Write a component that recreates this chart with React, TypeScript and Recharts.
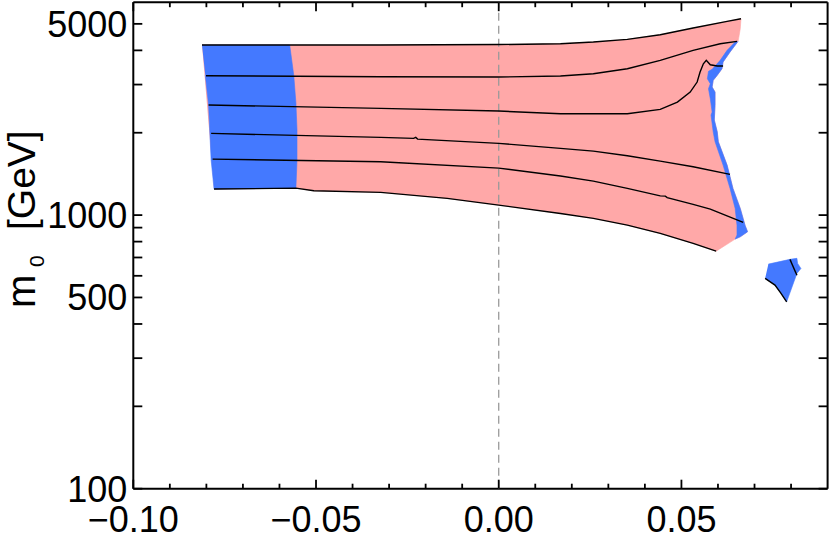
import React from 'react';
import { ScatterChart, Scatter, XAxis, YAxis } from 'recharts';

const FONT = '"Liberation Sans", Arial, Helvetica, sans-serif';
const PINK = '#FFA8A8';
const BLUE = '#4479FF';

// axis ticks
const xAllTicks = [-0.1, -0.09, -0.08, -0.07, -0.06, -0.05, -0.04, -0.03, -0.02, -0.01, 0, 0.01, 0.02, 0.03, 0.04, 0.05, 0.06, 0.07, 0.08];
const xMajorTicks = [-0.1, -0.05, 0, 0.05];
const xMajorLabels = ['\u22120.10', '\u22120.05', '0.00', '0.05'];
const yAllTicks = [100, 200, 300, 400, 500, 600, 700, 800, 900, 1000, 2000, 3000, 4000, 5000];
const yMajorTicks = [100, 500, 1000, 5000];
const yMajorLabels = ['100', '500', '1000', '5000'];

// filled regions
const pinkRegion = [
  { x: -0.0812, y: 4183 }, { x: -0.0569, y: 4183 }, { x: -0.0323, y: 4183 }, { x: 0.0, y: 4201 },
  { x: 0.0169, y: 4229 }, { x: 0.0259, y: 4290 }, { x: 0.0352, y: 4389 }, { x: 0.0442, y: 4563 },
  { x: 0.0532, y: 4828 }, { x: 0.0625, y: 5108 }, { x: 0.0663, y: 5222 },
  { x: 0.0661, y: 4799 }, { x: 0.0658, y: 4540 }, { x: 0.0655, y: 4316 },
  { x: 0.0633, y: 3945 }, { x: 0.0614, y: 3626 }, { x: 0.0611, y: 3427 }, { x: 0.0598, y: 3242 },
  { x: 0.0587, y: 3108 }, { x: 0.0584, y: 2938 }, { x: 0.0592, y: 2816 }, { x: 0.0592, y: 2518 },
  { x: 0.059, y: 2226 }, { x: 0.0598, y: 2016 }, { x: 0.0601, y: 1854 }, { x: 0.0625, y: 1523 },
  { x: 0.0641, y: 1252 }, { x: 0.0661, y: 1058 }, { x: 0.0674, y: 919 }, { x: 0.0681, y: 869 },
  { x: 0.0661, y: 833 }, { x: 0.0647, y: 817 },
  { x: 0.0595, y: 738 }, { x: 0.0532, y: 788 }, { x: 0.0442, y: 857 }, { x: 0.0352, y: 919 },
  { x: 0.0259, y: 973 }, { x: 0.0169, y: 1014 }, { x: 0.0, y: 1088 }, { x: -0.0141, y: 1151 },
  { x: -0.0323, y: 1211 }, { x: -0.0506, y: 1227 }, { x: -0.0555, y: 1255 }, { x: -0.0779, y: 1245 },
];

const blueLeft = [
  { x: -0.0812, y: 4183 }, { x: -0.0572, y: 4183 }, { x: -0.0561, y: 3250 }, { x: -0.0555, y: 2568 },
  { x: -0.0552, y: 2046 }, { x: -0.0552, y: 1589 }, { x: -0.0555, y: 1255 }, { x: -0.0779, y: 1245 },
  { x: -0.0787, y: 1589 }, { x: -0.0794, y: 2525 }, { x: -0.0803, y: 3250 },
];

const blueSliver = [
  { x: 0.0655, y: 4316 }, { x: 0.0633, y: 3945 }, { x: 0.0614, y: 3626 }, { x: 0.0611, y: 3427 },
  { x: 0.0598, y: 3242 }, { x: 0.0587, y: 3108 }, { x: 0.0584, y: 2938 }, { x: 0.0592, y: 2816 },
  { x: 0.0592, y: 2518 }, { x: 0.059, y: 2226 }, { x: 0.0598, y: 2016 }, { x: 0.0601, y: 1854 },
  { x: 0.0625, y: 1523 }, { x: 0.0641, y: 1252 }, { x: 0.0661, y: 1058 }, { x: 0.0674, y: 919 },
  { x: 0.0681, y: 869 }, { x: 0.0661, y: 833 }, { x: 0.0647, y: 817 },
  { x: 0.0652, y: 845 }, { x: 0.0652, y: 919 }, { x: 0.0647, y: 1058 }, { x: 0.0633, y: 1252 },
  { x: 0.0614, y: 1523 }, { x: 0.0592, y: 1854 }, { x: 0.0587, y: 2011 }, { x: 0.0581, y: 2321 },
  { x: 0.0584, y: 2380 }, { x: 0.0579, y: 2662 }, { x: 0.0574, y: 2896 }, { x: 0.0579, y: 3020 },
  { x: 0.0571, y: 3150 }, { x: 0.0574, y: 3353 }, { x: 0.0584, y: 3410 }, { x: 0.0606, y: 3678 },
  { x: 0.0625, y: 4002 }, { x: 0.0647, y: 4290 },
];

const blueIsland = [
  { x: 0.0738, y: 662 }, { x: 0.0797, y: 689 }, { x: 0.0816, y: 695 }, { x: 0.0818, y: 666 },
  { x: 0.0827, y: 638 }, { x: 0.0816, y: 612 }, { x: 0.0788, y: 482 }, { x: 0.0772, y: 519 },
  { x: 0.0756, y: 555 }, { x: 0.0729, y: 587 },
];

// contour lines
const line1 = [
  { x: -0.0812, y: 4183 }, { x: -0.0569, y: 4183 }, { x: -0.0323, y: 4183 }, { x: 0.0, y: 4201 },
  { x: 0.0169, y: 4229 }, { x: 0.0259, y: 4290 }, { x: 0.0352, y: 4389 }, { x: 0.0442, y: 4563 },
  { x: 0.0532, y: 4828 }, { x: 0.0625, y: 5108 }, { x: 0.0663, y: 5222 },
];
const line2 = [
  { x: -0.0801, y: 3231 }, { x: -0.0323, y: 3204 }, { x: 0.0, y: 3196 }, { x: 0.0169, y: 3223 },
  { x: 0.0259, y: 3286 }, { x: 0.0352, y: 3427 }, { x: 0.0442, y: 3678 }, { x: 0.0532, y: 4002 },
  { x: 0.0606, y: 4229 }, { x: 0.0652, y: 4316 },
];
const line3 = [
  { x: -0.0794, y: 2525 }, { x: -0.0323, y: 2455 }, { x: 0.0, y: 2401 }, { x: 0.0169, y: 2346 },
  { x: 0.0352, y: 2346 }, { x: 0.0442, y: 2435 }, { x: 0.0489, y: 2589 }, { x: 0.0524, y: 2816 },
  { x: 0.0543, y: 3064 }, { x: 0.0551, y: 3333 }, { x: 0.056, y: 3574 }, { x: 0.0568, y: 3678 },
  { x: 0.0579, y: 3544 }, { x: 0.0598, y: 3506 }, { x: 0.0614, y: 3506 },
];
const line4 = [
  { x: -0.0787, y: 1989 }, { x: -0.0323, y: 1923 }, { x: -0.0233, y: 1907 }, { x: -0.0227, y: 1923 },
  { x: -0.0222, y: 1896 }, { x: 0.0, y: 1829 }, { x: 0.0169, y: 1753 }, { x: 0.0259, y: 1714 },
  { x: 0.0352, y: 1647 }, { x: 0.0442, y: 1575 }, { x: 0.0532, y: 1502 }, { x: 0.0633, y: 1409 },
];
const line5 = [
  { x: -0.0783, y: 1602 }, { x: -0.0323, y: 1566 }, { x: 0.0, y: 1485 }, { x: 0.0169, y: 1389 },
  { x: 0.0259, y: 1331 }, { x: 0.0352, y: 1252 }, { x: 0.0442, y: 1176 }, { x: 0.0456, y: 1173 },
  { x: 0.0461, y: 1159 }, { x: 0.0532, y: 1094 }, { x: 0.0579, y: 1052 }, { x: 0.0669, y: 940 },
];
const line6 = [
  { x: -0.0779, y: 1245 }, { x: -0.0555, y: 1255 }, { x: -0.0506, y: 1227 }, { x: -0.0323, y: 1211 },
  { x: -0.0141, y: 1151 }, { x: 0.0, y: 1088 }, { x: 0.0169, y: 1014 }, { x: 0.0259, y: 973 },
  { x: 0.0352, y: 919 }, { x: 0.0442, y: 857 }, { x: 0.0532, y: 788 }, { x: 0.0595, y: 738 },
];
const islandCurve = [
  { x: 0.0729, y: 587 }, { x: 0.0756, y: 555 }, { x: 0.0772, y: 519 }, { x: 0.0788, y: 482 },
];
const islandTick = [
  { x: 0.0797, y: 689 }, { x: 0.0816, y: 603 },
];
const zeroLine = [
  { x: 0, y: 100 }, { x: 0, y: 6000 },
];

const NoDot = () => <g />;

const BottomTick = (props: any) => {
  const { x, y, payload } = props;
  const i = xMajorTicks.indexOf(payload.value);
  const major = i >= 0;
  return (
    <g>
      <line x1={x} x2={x} y1={y} y2={y - (major ? 9 : 5)} stroke="#000" strokeWidth={1.8} />
      {major && (
        <text x={x} y={y + 43} textAnchor="middle" fontSize={36} fontFamily={FONT} fill="#000">
          {xMajorLabels[i]}
        </text>
      )}
    </g>
  );
};

const TopTick = (props: any) => {
  const { x, y, payload } = props;
  const major = xMajorTicks.indexOf(payload.value) >= 0;
  return <line x1={x} x2={x} y1={y} y2={y + (major ? 9 : 5)} stroke="#000" strokeWidth={1.8} />;
};

const LeftTick = (props: any) => {
  const { x, y, payload } = props;
  const i = yMajorTicks.indexOf(payload.value);
  return (
    <g>
      <line x1={x} x2={x + 9} y1={y} y2={y} stroke="#000" strokeWidth={1.8} />
      {i >= 0 && (
        <text x={x - 6} y={y + 13} textAnchor="end" fontSize={36} fontFamily={FONT} fill="#000">
          {yMajorLabels[i]}
        </text>
      )}
    </g>
  );
};

const RightTick = (props: any) => {
  const { x, y } = props;
  return <line x1={x} x2={x - 9} y1={y} y2={y} stroke="#000" strokeWidth={1.8} />;
};

const YLabel = () => (
  <text transform="rotate(-90)" fontFamily={FONT} fill="#000">
    <tspan x={-308} y={35} fontSize={40}>m</tspan>
    <tspan x={-267} y={44} fontSize={21}>0</tspan>
    <tspan x={-230} y={35} fontSize={39}>[GeV]</tspan>
  </text>
);

const fillLine = (c: string) => ({ fill: c, stroke: c, strokeWidth: 0.6 });
const blackLine = { stroke: '#000', strokeWidth: 1.4, fill: 'none' };

export default function App() {
  const axisLine = { stroke: '#000', strokeWidth: 2 };
  return (
    <div style={{ position: 'absolute', left: 0, top: 0, width: 830, height: 535, background: '#fff' }}>
      <ScatterChart width={830} height={535} margin={{ top: 1.2, right: 1.4, bottom: 0, left: 0 }}>
        <XAxis
          type="number"
          dataKey="x"
          domain={[-0.1, 0.09]}
          allowDataOverflow
          ticks={xAllTicks}
          interval={0}
          tick={<BottomTick />}
          tickLine={false}
          tickSize={0}
          tickMargin={0}
          axisLine={axisLine}
          height={46.3}
        />
        <XAxis
          xAxisId="top"
          orientation="top"
          type="number"
          dataKey="x"
          domain={[-0.1, 0.09]}
          allowDataOverflow
          ticks={xAllTicks}
          interval={0}
          tick={<TopTick />}
          tickLine={false}
          tickSize={0}
          tickMargin={0}
          axisLine={axisLine}
          height={1}
        />
        <YAxis
          type="number"
          dataKey="y"
          scale="log"
          domain={[100, 6000]}
          allowDataOverflow
          ticks={yAllTicks}
          interval={0}
          tick={<LeftTick />}
          tickLine={false}
          tickSize={0}
          tickMargin={0}
          axisLine={axisLine}
          width={133.3}
          label={<YLabel />}
        />
        <YAxis
          yAxisId="right"
          orientation="right"
          type="number"
          dataKey="y"
          scale="log"
          domain={[100, 6000]}
          allowDataOverflow
          ticks={yAllTicks}
          interval={0}
          tick={<RightTick />}
          tickLine={false}
          tickSize={0}
          tickMargin={0}
          axisLine={axisLine}
          width={1}
        />
        <Scatter data={pinkRegion} line={fillLine(PINK)} lineType="joint" shape={NoDot} isAnimationActive={false} legendType="none" />
        <Scatter data={blueLeft} line={fillLine(BLUE)} lineType="joint" shape={NoDot} isAnimationActive={false} legendType="none" />
        <Scatter data={blueSliver} line={fillLine(BLUE)} lineType="joint" shape={NoDot} isAnimationActive={false} legendType="none" />
        <Scatter data={blueIsland} line={fillLine(BLUE)} lineType="joint" shape={NoDot} isAnimationActive={false} legendType="none" />
        <Scatter data={zeroLine} line={{ stroke: '#999', strokeWidth: 1.3, strokeDasharray: '8 5', fill: 'none' }} lineType="joint" shape={NoDot} isAnimationActive={false} legendType="none" />
        <Scatter data={line1} line={blackLine} lineType="joint" shape={NoDot} isAnimationActive={false} legendType="none" />
        <Scatter data={line2} line={blackLine} lineType="joint" shape={NoDot} isAnimationActive={false} legendType="none" />
        <Scatter data={line3} line={blackLine} lineType="joint" shape={NoDot} isAnimationActive={false} legendType="none" />
        <Scatter data={line4} line={blackLine} lineType="joint" shape={NoDot} isAnimationActive={false} legendType="none" />
        <Scatter data={line5} line={blackLine} lineType="joint" shape={NoDot} isAnimationActive={false} legendType="none" />
        <Scatter data={line6} line={blackLine} lineType="joint" shape={NoDot} isAnimationActive={false} legendType="none" />
        <Scatter data={islandCurve} line={blackLine} lineType="joint" shape={NoDot} isAnimationActive={false} legendType="none" />
        <Scatter data={islandTick} line={blackLine} lineType="joint" shape={NoDot} isAnimationActive={false} legendType="none" />
      </ScatterChart>
    </div>
  );
}
